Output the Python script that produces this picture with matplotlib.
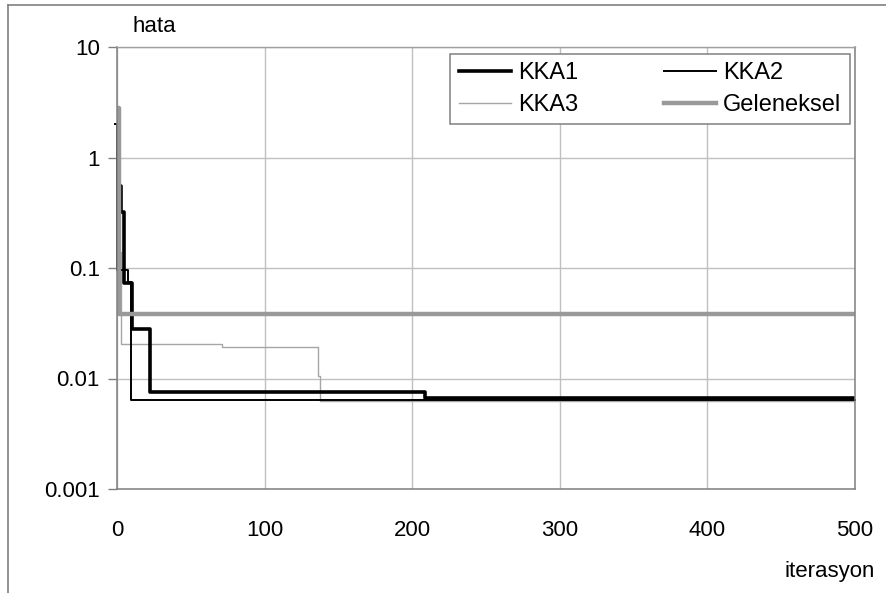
import numpy as np
import matplotlib.pyplot as plt
from matplotlib.lines import Line2D
from matplotlib.ticker import FuncFormatter, NullLocator

plt.rcParams['font.family'] = ['Liberation Sans', 'DejaVu Sans']

# step curves (iteration where value starts, error value)
kka1_x = [0, 2.7, 4.7, 10.2, 22.4, 209, 500]
kka1_y = [0.55, 0.32, 0.073, 0.028, 0.0075, 0.0066, 0.0066]

kka2_x = [-1.5, 0.3, 7.5, 9.5, 500]
kka2_y = [2.0, 0.096, 0.075, 0.0064, 0.0064]

kka3_x = [0, 1, 3, 71, 136, 137.5, 500]
kka3_y = [2.78, 0.14, 0.0207, 0.0191, 0.0106, 0.0063, 0.0063]

gel_x = [0, 1.3, 500]
gel_y = [2.78, 0.0385, 0.0385]

x_ticks = [0, 100, 200, 300, 400, 500]
y_ticks = [0.001, 0.01, 0.1, 1, 10]

W, H = 887, 593
fig = plt.figure(figsize=(W/100, H/100), dpi=100)
ax = fig.add_axes([117/W, 1-489/H, 738/W, 442/H])

l3, = ax.step(kka3_x, kka3_y, where='post', color='#a6a6a6', lw=1.0, label='KKA3')
l2, = ax.step(kka2_x, kka2_y, where='post', color='black', lw=1.4, label='KKA2', clip_on=False)
l1, = ax.step(kka1_x, kka1_y, where='post', color='black', lw=2.6, label='KKA1')
lg, = ax.step(gel_x, gel_y, where='post', color='#999999', lw=3.2, label='Geleneksel')

ax.set_yscale('log')
ax.set_xlim(0, 500)
ax.set_ylim(0.001, 10)
ax.set_xticks(x_ticks)
ax.set_yticks(y_ticks)
ax.yaxis.set_minor_locator(NullLocator())
ax.yaxis.set_major_formatter(FuncFormatter(lambda v, p: '%g' % v))
ax.tick_params(axis='x', length=0, pad=22, labelsize=16)
ax.tick_params(axis='y', length=6.5, width=1, color='#808080', pad=6, labelsize=16)
ax.grid(True, color='#c0c0c0', lw=1.0)
ax.set_axisbelow(True)
for s in ['left', 'bottom', 'right']:
    ax.spines[s].set_color('#808080')
    ax.spines[s].set_linewidth(1.1)
ax.spines['top'].set_color('#a0a0a0')
ax.spines['top'].set_linewidth(1.0)

leg = ax.legend(handles=[l1, l3, l2, lg], ncol=2, loc='upper right',
                bbox_to_anchor=(0.993, 0.984), borderaxespad=0, fontsize=17,
                frameon=True, fancybox=False, edgecolor='#808080', framealpha=1,
                handlelength=2.2, handletextpad=0.33, columnspacing=3.6,
                labelspacing=0.4, borderpad=0.35)
leg.get_frame().set_linewidth(1.1)

fig.text(133/W, 1-32/H, 'hata', fontsize=16, va='baseline', ha='left')
fig.text(875/W, 1-571/H, 'iterasyon', fontsize=16, va='center', ha='right')

# outer chart border
fig.add_artist(Line2D([8.5/W, 8.5/W], [0, 1-4.5/H], color='#808080', lw=1.2, transform=fig.transFigure))
fig.add_artist(Line2D([8.5/W, 1], [1-4.5/H, 1-4.5/H], color='#808080', lw=1.2, transform=fig.transFigure))

fig.savefig('out.png', dpi=100)
